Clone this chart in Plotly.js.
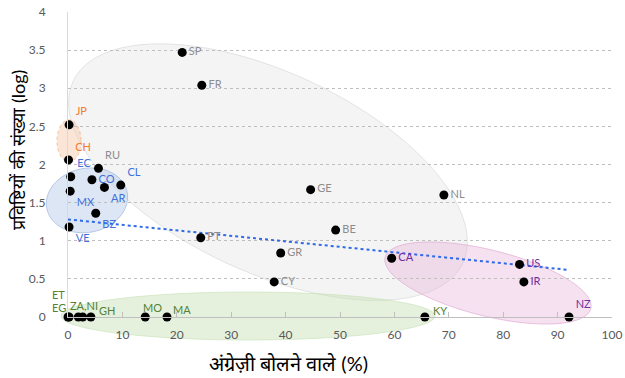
<!DOCTYPE html>
<html><head><meta charset="utf-8">
<script src="https://cdn.plot.ly/plotly-3.0.1.min.js"></script>
<style>html,body{margin:0;padding:0;background:#fff}#chart{width:625px;height:378px}</style>
</head><body><div id="chart"></div>
<script>
// ---- data ----
const grayNames = ['SP','FR','RU','GE','NL','BE','PT','GR','CY'];
const grayX = [21.0, 24.6, 5.6, 44.6, 69.1, 49.2, 24.4, 39.1, 37.9];
const grayY = [3.47, 3.04, 1.95, 1.67, 1.60, 1.14, 1.04, 0.84, 0.46];

const orangeNames = ['JP','CH'];
const orangeX = [0.2, 0.1];
const orangeY = [2.52, 2.06];

const blueNames = ['EC','CO','AR','CL','MX','BZ','VE'];
const blueX = [0.5, 4.4, 6.7, 9.7, 0.4, 5.1, 0.2];
const blueY = [1.84, 1.80, 1.70, 1.73, 1.65, 1.36, 1.18];

const purpleNames = ['CA','US','IR','NZ'];
const purpleX = [59.5, 83.0, 83.8, 92.1];
const purpleY = [0.77, 0.69, 0.46, 0.0];

const greenNames = ['ET','EG','ZA','NI','GH','MO','MA','KY'];
const greenLabels = ['ET', 'EG', '', 'ZA,NI', 'GH', 'MO', 'MA', 'KY'];
const greenX = [0.0, 0.2, 1.9, 2.7, 4.2, 14.2, 18.2, 65.6];
const greenY = [0, 0, 0, 0, 0, 0, 0, 0];

const trendX = [0, 91.7];
const trendY = [1.28, 0.62];

const xTicks = [0,10,20,30,40,50,60,70,80,90,100];
const yTicks = [0,0.5,1,1.5,2,2.5,3,3.5,4];

// ---- label placement (style) ----
const grayPos = ['middle right','middle right','top right','middle right','middle right','middle right','middle right','middle right','middle right'];
const orangePos = ['top right','top right'];
const bluePos = ['top right','middle right','bottom right','top right','bottom right','bottom right','bottom right'];
const purplePos = ['middle right','middle right','middle right','top right'];
// green labels as annotations: [xanchor, xshift, yshift]
const greenLabelStyle = [['right',-1,23],['right',-1,10],['center',0,0],['center',1,12],['left',6,7],['center',7,10],['left',4,8],['left',6,7]];

const FONT = 'Lato, "Open Sans", sans-serif';
const PLOT_W = 544, PLOT_H = 305;

function ellipsePath(cx, cy, aPx, bPx, deg) {
  const t = deg * Math.PI / 180, n = 96;
  const px0 = cx / 100, py0 = cy / 4;
  let d = '';
  for (let i = 0; i <= n; i++) {
    const s = 2 * Math.PI * i / n;
    const ex = aPx * Math.cos(s), ey = bPx * Math.sin(s);
    const rx = ex * Math.cos(t) - ey * Math.sin(t);
    const ry = ex * Math.sin(t) + ey * Math.cos(t);
    const X = px0 + rx / PLOT_W, Y = py0 - ry / PLOT_H;
    d += (i ? 'L' : 'M') + X.toFixed(5) + ',' + Y.toFixed(5);
  }
  return d + 'Z';
}
function ell(cx, cy, a, b, deg, fill, line, dash) {
  return {type:'path', xref:'paper', yref:'paper', layer:'below',
    path: ellipsePath(cx, cy, a, b, deg), fillcolor: fill,
    line:{color: line, width: 1, dash: dash || 'solid'}};
}

function group(x, y, text, pos, color) {
  return {type:'scatter', mode: text ? 'markers+text' : 'markers', x:x, y:y, text:text, textposition:pos,
    cliponaxis:false, hoverinfo:'skip',
    marker:{color:'#000', size:9},
    textfont:{family:FONT, size:11, color:color}};
}

const traces = [
  {type:'scatter', mode:'lines', x:trendX, y:trendY, hoverinfo:'skip',
   line:{color:'#2f6ae8', width:2, dash:'dot'}},
  group(grayX, grayY, grayNames, grayPos, '#8c8c8c'),
  group(orangeX, orangeY, orangeNames, orangePos, '#ed7d31'),
  group(blueX, blueY, blueNames, bluePos, '#3f6fdc'),
  group(purpleX, purpleY, purpleNames, purplePos, '#7030a0'),
  group(greenX, greenY, null, null, '#548235')
];

const annotations = greenLabels.map((t, i) => ({
  x: greenX[i], y: greenY[i], xref:'x', yref:'y', text: t, showarrow:false,
  xanchor: greenLabelStyle[i][0], yanchor:'middle',
  xshift: greenLabelStyle[i][1], yshift: greenLabelStyle[i][2],
  font:{family:FONT, size:11, color:'#548235'}
})).filter(a => a.text);

annotations.push(
  {x:0.405, y:-0.151, xref:'paper', yref:'paper', text:'अंग्रेज़ी बोलने वाले (%)', showarrow:false,
   xanchor:'center', yanchor:'middle', font:{family:FONT, size:20, color:'#000'}},
  {x:-0.092, y:0.548, xref:'paper', yref:'paper', text:'प्रविष्टियों की संख्या (log)', showarrow:false,
   textangle:-90, xanchor:'center', yanchor:'middle', font:{family:FONT, size:18, color:'#000'}}
);

const layout = {
  width:625, height:378,
  margin:{l:68, r:13, t:12, b:61},
  paper_bgcolor:'#fff', plot_bgcolor:'rgba(0,0,0,0)',
  showlegend:false,
  font:{family:FONT, color:'#595959', size:12},
  xaxis:{range:[0,100], tickvals:xTicks, showgrid:false, zeroline:false,
    showline:true, linecolor:'#bfbfbf', linewidth:1,
    ticks:'inside', ticklen:5, tickcolor:'#bfbfbf',
    tickfont:{family:FONT, size:12, color:'#595959'}, ticklabelstandoff:7},
  yaxis:{range:[0,4], tickvals:yTicks, showgrid:true, gridcolor:'#bfbfbf', griddash:'dot', gridwidth:1,
    zeroline:false, showline:true, linecolor:'#d9d9d9', linewidth:1, ticks:'',
    tickfont:{family:FONT, size:12, color:'#595959'}, ticklabelstandoff:19},
  shapes:[
    ell(36.76, 1.90, 215, 100, 25, 'rgba(217,217,217,0.3)', 'rgba(200,200,200,0.45)'),
    ell(33.1, 0.013, 187, 24, 0, 'rgba(197,224,180,0.45)', 'rgba(197,224,180,0.6)'),
    ell(3.49, 1.53, 41, 32, -12, 'rgba(180,199,231,0.45)', 'rgba(143,170,220,0.6)'),
    ell(0.18, 2.31, 12, 21, 0, 'rgba(248,203,173,0.5)', 'rgba(244,177,131,0.8)', 'dot'),
    ell(77.2, 0.446, 106, 33, 14, 'rgba(230,170,215,0.35)', 'rgba(220,160,205,0.6)')
  ],
  annotations: annotations
};

Plotly.newPlot('chart', traces, layout, {staticPlot:true, displayModeBar:false});
</script>
</body></html>
